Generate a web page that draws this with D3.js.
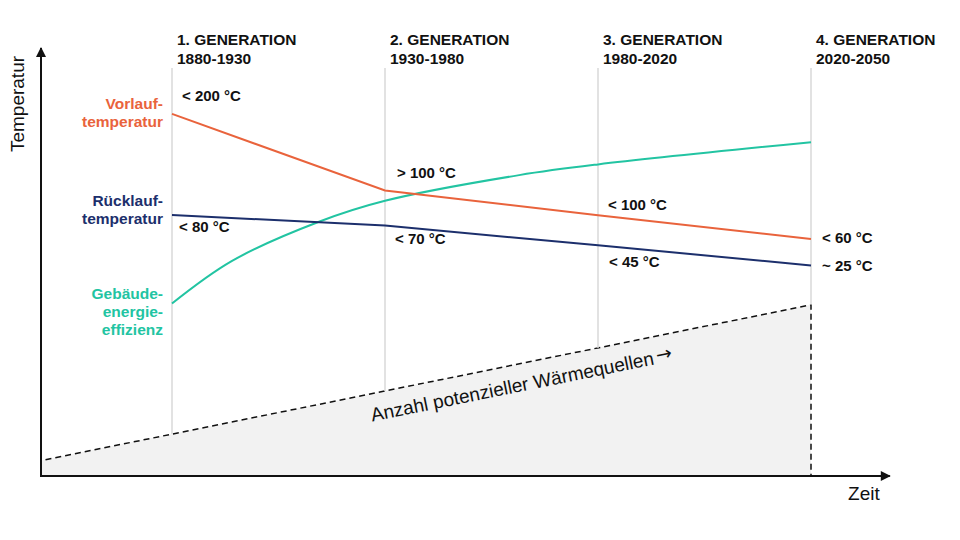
<!DOCTYPE html>
<html>
<head>
<meta charset="utf-8">
<script src="https://cdn.jsdelivr.net/npm/d3@7"></script>
<style>
  html, body { margin: 0; padding: 0; background: #fff; }
  svg { display: block; font-family: "Liberation Sans", Arial, sans-serif; }
</style>
</head>
<body>
<div id="chart"></div>
<script>
// Generations (x = generation index, 0..3)
const generations = ["1. GENERATION", "2. GENERATION", "3. GENERATION", "4. GENERATION"];
const periods = ["1880-1930", "1930-1980", "1980-2020", "2020-2050"];
const genIndex = [0, 1, 2, 3];

// relative level on the temperature axis (0..100)
const vorlauf = [84.6, 66.7, 60.9, 55.4];
const ruecklauf = [61.0, 58.5, 53.9, 49.2];
const vorlaufLabels = ["< 200 °C", "> 100 °C", "< 100 °C", "< 60 °C"];
const ruecklaufLabels = ["< 80 °C", "< 70 °C", "< 45 °C", "~ 25 °C"];

// building energy efficiency curve
const effizienzX = [0, 0.28, 0.69, 1, 1.63, 2, 3];
const effizienzY = [40.3, 50.2, 59.4, 64.3, 70.3, 72.8, 78.0];

// number of potential heat sources (dashed wedge)
const quellenX = [-0.615, 3];
const quellenY = [3.6, 40.0];

const seriesNames = {
  vorlauf: ["Vorlauf-", "temperatur"],
  ruecklauf: ["Rücklauf-", "temperatur"],
  effizienz: ["Gebäude-", "energie-", "effizienz"]
};

const width = 960, height = 540;
const colors = { vorlauf: "#e9633c", ruecklauf: "#1c2f6c", effizienz: "#22c4a2" };

const svg = d3.select("#chart").append("svg")
  .attr("width", width)
  .attr("height", height);

const x = d3.scaleLinear().domain([0, 3]).range([172, 811]);
const y = d3.scaleLinear().domain([0, 100]).range([476, 48]);
const xEnd = 3.37;

// Heat source wedge
const quellen = quellenX.map((d, i) => ({ x: d, y: quellenY[i] }));
const wedge = [
  { x: quellenX[0], y: 0 },
  ...quellen,
  { x: quellenX[1], y: 0 }
];
svg.append("path")
  .attr("d", d3.line().x(d => x(d.x)).y(d => y(d.y))(wedge) + "Z")
  .attr("fill", "#f2f2f2")
  .attr("stroke", "#111")
  .attr("stroke-width", 1.5)
  .attr("stroke-dasharray", "6,4");

// Generation lines, from header down to the wedge
const slope = (quellenY[1] - quellenY[0]) / (quellenX[1] - quellenX[0]);
const quellenAt = g => quellenY[0] + slope * (g - quellenX[0]);

svg.selectAll(".gen-line")
  .data(genIndex)
  .join("line")
  .attr("class", "gen-line")
  .attr("x1", d => x(d))
  .attr("x2", d => x(d))
  .attr("y1", 68)
  .attr("y2", d => y(quellenAt(d)))
  .attr("stroke", "#d9d9d9")
  .attr("stroke-width", 1.5);

// Headers
const headers = svg.selectAll(".header")
  .data(genIndex)
  .join("text")
  .attr("class", "header")
  .attr("x", d => x(d) + 5)
  .attr("y", 45)
  .style("font-size", "15.5px")
  .style("font-weight", "bold")
  .style("fill", "#111");
headers.append("tspan").text(d => generations[d]);
headers.append("tspan")
  .attr("x", d => x(d) + 5)
  .attr("dy", 19)
  .text(d => periods[d]);

// Wedge label, rotated along the dashed line
const angle = Math.atan2(y(quellenY[1]) - y(quellenY[0]), x(quellenX[1]) - x(quellenX[0])) * 180 / Math.PI;
const wl = svg.append("text")
  .attr("transform", `translate(${x(0.94)},${y(quellenAt(0.94)) + 28}) rotate(${angle})`)
  .style("font-size", "19px")
  .style("fill", "#111");
wl.append("tspan").text("Anzahl potenzieller Wärmequellen");
wl.append("tspan")
  .attr("dx", 3)
  .attr("dy", -2)
  .style("font-family", "'Noto Sans', 'DejaVu Sans', sans-serif")
  .style("font-size", "19px")
  .text("→");

// Lines
const line = d3.line().x(d => x(d.x)).y(d => y(d.y));

svg.append("path")
  .attr("d", line.curve(d3.curveCatmullRom.alpha(0.5))(effizienzX.map((d, i) => ({ x: d, y: effizienzY[i] }))))
  .attr("fill", "none")
  .attr("stroke", colors.effizienz)
  .attr("stroke-width", 2);

line.curve(d3.curveLinear);
svg.append("path")
  .attr("d", line(genIndex.map(i => ({ x: i, y: vorlauf[i] }))))
  .attr("fill", "none")
  .attr("stroke", colors.vorlauf)
  .attr("stroke-width", 2);

svg.append("path")
  .attr("d", line(genIndex.map(i => ({ x: i, y: ruecklauf[i] }))))
  .attr("fill", "none")
  .attr("stroke", colors.ruecklauf)
  .attr("stroke-width", 2);

// Temperature labels
const vorlaufOffset = [[10, -13], [12, -13], [10, -5], [11, 4]];
const ruecklaufOffset = [[7, 17], [10, 18], [11, 22], [11, 6]];

svg.selectAll(".vl-label")
  .data(genIndex)
  .join("text")
  .attr("class", "vl-label")
  .attr("x", d => x(d) + vorlaufOffset[d][0])
  .attr("y", d => y(vorlauf[d]) + vorlaufOffset[d][1])
  .style("font-size", "15px")
  .style("font-weight", "bold")
  .style("fill", "#111")
  .text(d => vorlaufLabels[d]);

svg.selectAll(".rl-label")
  .data(genIndex)
  .join("text")
  .attr("class", "rl-label")
  .attr("x", d => x(d) + ruecklaufOffset[d][0])
  .attr("y", d => y(ruecklauf[d]) + ruecklaufOffset[d][1])
  .style("font-size", "15px")
  .style("font-weight", "bold")
  .style("fill", "#111")
  .text(d => ruecklaufLabels[d]);

// Series names on the left
function seriesLabel(lines, yStart, dy0, color) {
  const t = svg.append("text")
    .attr("text-anchor", "end")
    .style("font-size", "15.5px")
    .style("font-weight", "bold")
    .style("fill", color);
  lines.forEach((s, i) => {
    t.append("tspan")
      .attr("x", 163)
      .attr("y", y(yStart) + dy0 + i * 18)
      .text(s);
  });
}
seriesLabel(seriesNames.vorlauf, vorlauf[0], -5, colors.vorlauf);
seriesLabel(seriesNames.ruecklauf, ruecklauf[0], -9, colors.ruecklauf);
seriesLabel(seriesNames.effizienz, effizienzY[0], -4.5, colors.effizienz);

// Axes with arrowheads
svg.append("defs").append("marker")
  .attr("id", "arrow")
  .attr("viewBox", "0 0 10 10")
  .attr("refX", 9)
  .attr("refY", 5)
  .attr("markerWidth", 5.5)
  .attr("markerHeight", 5)
  .attr("markerUnits", "strokeWidth")
  .attr("orient", "auto")
  .append("path")
  .attr("d", "M0,0L10,5L0,10Z")
  .attr("fill", "#111");

svg.append("line")
  .attr("x1", x(quellenX[0])).attr("y1", y(0))
  .attr("x2", x(xEnd)).attr("y2", y(0))
  .attr("stroke", "#111").attr("stroke-width", 2)
  .attr("marker-end", "url(#arrow)");

svg.append("line")
  .attr("x1", x(quellenX[0])).attr("y1", y(0) + 1)
  .attr("x2", x(quellenX[0])).attr("y2", y(100))
  .attr("stroke", "#111").attr("stroke-width", 2)
  .attr("marker-end", "url(#arrow)");

svg.append("text")
  .attr("x", x(xEnd) - 10)
  .attr("y", 500)
  .attr("text-anchor", "end")
  .style("font-size", "19px")
  .style("fill", "#111")
  .text("Zeit");

svg.append("text")
  .attr("transform", `translate(24,104) rotate(-90)`)
  .attr("text-anchor", "middle")
  .style("font-size", "19px")
  .style("fill", "#111")
  .text("Temperatur");
</script>
</body>
</html>
